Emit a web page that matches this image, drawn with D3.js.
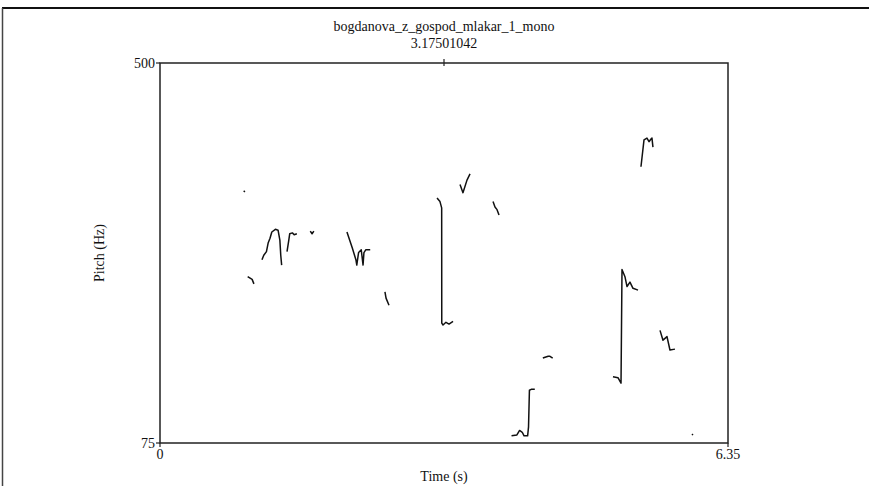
<!DOCTYPE html>
<html lang="en">
<head>
<meta charset="UTF-8">
<title>Pitch</title>
<style>
  body { margin: 0; background: white; }
  text { font-family: "Liberation Serif", "Times New Roman", serif; fill: #111; }
</style>
</head>
<body>
<svg width="869" height="486"></svg>
<script src="https://d3js.org/d3.v7.min.js"></script>
<script>
const title = "bogdanova_z_gospod_mlakar_1_mono";
const cursorTime = 3.17501042;
const timeRange = [0, 6.35];
const pitchRange = [75, 500];
const xTickLabels = ["0", "6.35"];
const yTickLabels = ["75", "500"];

// pitch contours: [time (s), pitch (Hz)]
const seg01 = [[0.935, 357], [0.950, 356]];
const seg02 = [[0.98, 261], [1.03, 258], [1.05, 253]];
const seg03 = [[1.14, 280], [1.16, 285], [1.19, 289], [1.21, 299], [1.23, 304], [1.25, 311], [1.29, 314], [1.32, 313], [1.34, 302], [1.35, 285], [1.36, 274]];
const seg04 = [[1.42, 289], [1.44, 302], [1.45, 309], [1.48, 310], [1.50, 308], [1.53, 309]];
const seg05 = [[1.68, 312], [1.70, 309], [1.72, 312]];
const seg06 = [[2.09, 311], [2.15, 293], [2.19, 280], [2.20, 274], [2.22, 288], [2.25, 291], [2.27, 274], [2.28, 288], [2.30, 291], [2.35, 291]];
const seg07 = [[2.515, 244], [2.527, 237], [2.56, 229]];
const seg08 = [[3.097, 349], [3.13, 345], [3.149, 338], [3.15, 209], [3.164, 207], [3.197, 210], [3.231, 208], [3.276, 211]];
const seg09 = [[3.354, 364], [3.387, 355], [3.432, 369], [3.466, 376]];
const seg10 = [[3.723, 345], [3.745, 339], [3.768, 336], [3.79, 330]];
const seg11 = [[3.93, 83], [3.99, 84], [4.02, 89], [4.05, 87], [4.07, 83], [4.11, 83], [4.12, 93], [4.13, 134], [4.15, 135], [4.19, 135]];
const seg12 = [[4.28, 170], [4.34, 172], [4.36, 172], [4.39, 170]];
const seg13 = [[5.064, 149], [5.12, 148], [5.154, 142], [5.165, 269], [5.198, 261], [5.221, 250], [5.254, 255], [5.288, 248], [5.344, 246]];
const seg14 = [[5.377, 384], [5.411, 414], [5.444, 416], [5.467, 412], [5.489, 415], [5.50, 416], [5.511, 406]];
const seg15 = [[5.59, 201], [5.623, 190], [5.668, 194], [5.701, 179], [5.757, 180]];
const seg16 = [[5.947, 85], [5.959, 84]];
const contours = [seg01, seg02, seg03, seg04, seg05, seg06, seg07, seg08, seg09, seg10, seg11, seg12, seg13, seg14, seg15, seg16];

const plotLeft = 160, plotRight = 728, plotTop = 63, plotBottom = 443;

const svg = d3.select("svg");

// outer frame
svg.append("line").attr("x1", 2).attr("x2", 869).attr("y1", 8).attr("y2", 8)
  .attr("stroke", "#111").attr("stroke-width", 2);
svg.append("line").attr("x1", 2.5).attr("x2", 2.5).attr("y1", 8).attr("y2", 486)
  .attr("stroke", "#444").attr("stroke-width", 1.5);

const x = d3.scaleLinear().domain(timeRange).range([plotLeft, plotRight]);
const y = d3.scaleLinear().domain(pitchRange).range([plotBottom, plotTop]);

// plot box
svg.append("rect")
  .attr("x", plotLeft).attr("y", plotTop)
  .attr("width", plotRight - plotLeft).attr("height", plotBottom - plotTop)
  .attr("fill", "none").attr("stroke", "#222").attr("stroke-width", 1.5);

// axes ticks & labels
const yAxis = svg.append("g");
yAxis.selectAll("line").data(pitchRange).join("line")
  .attr("x1", plotLeft - 4).attr("x2", plotLeft)
  .attr("y1", d => y(d)).attr("y2", d => y(d))
  .attr("stroke", "#222").attr("stroke-width", 1.2);
yAxis.selectAll("text").data(pitchRange).join("text")
  .attr("x", plotLeft - 5).attr("y", d => y(d)).attr("dy", "0.35em")
  .attr("text-anchor", "end").attr("font-size", 14)
  .text((d, i) => yTickLabels[i]);

const xAxis = svg.append("g");
xAxis.selectAll("line").data(timeRange).join("line")
  .attr("x1", d => x(d)).attr("x2", d => x(d))
  .attr("y1", plotBottom).attr("y2", plotBottom + 4)
  .attr("stroke", "#222").attr("stroke-width", 1.2);
xAxis.selectAll("text").data(timeRange).join("text")
  .attr("x", d => x(d)).attr("y", plotBottom + 16)
  .attr("text-anchor", "middle").attr("font-size", 14)
  .text((d, i) => xTickLabels[i]);

svg.append("text")
  .attr("x", (plotLeft + plotRight) / 2).attr("y", 481)
  .attr("text-anchor", "middle").attr("font-size", 14)
  .text("Time (s)");

svg.append("text")
  .attr("transform", `translate(104,${(plotTop + plotBottom) / 2}) rotate(-90)`)
  .attr("text-anchor", "middle").attr("font-size", 14)
  .text("Pitch (Hz)");

// title and cursor
svg.append("text")
  .attr("x", x(cursorTime)).attr("y", 31)
  .attr("text-anchor", "middle").attr("font-size", 14)
  .text(title);
svg.append("text")
  .attr("x", x(cursorTime)).attr("y", 48)
  .attr("text-anchor", "middle").attr("font-size", 14)
  .text(cursorTime.toFixed(8));
svg.append("line")
  .attr("x1", x(cursorTime)).attr("x2", x(cursorTime))
  .attr("y1", plotTop - 4).attr("y2", plotTop + 3)
  .attr("stroke", "#222").attr("stroke-width", 1.2);

// pitch contours
const line = d3.line().x(d => x(d[0])).y(d => y(d[1]));
svg.append("g").selectAll("path").data(contours).join("path")
  .attr("d", line)
  .attr("fill", "none")
  .attr("stroke", "#111")
  .attr("stroke-width", 1.5)
  .attr("stroke-linejoin", "round");
</script>
</body>
</html>
